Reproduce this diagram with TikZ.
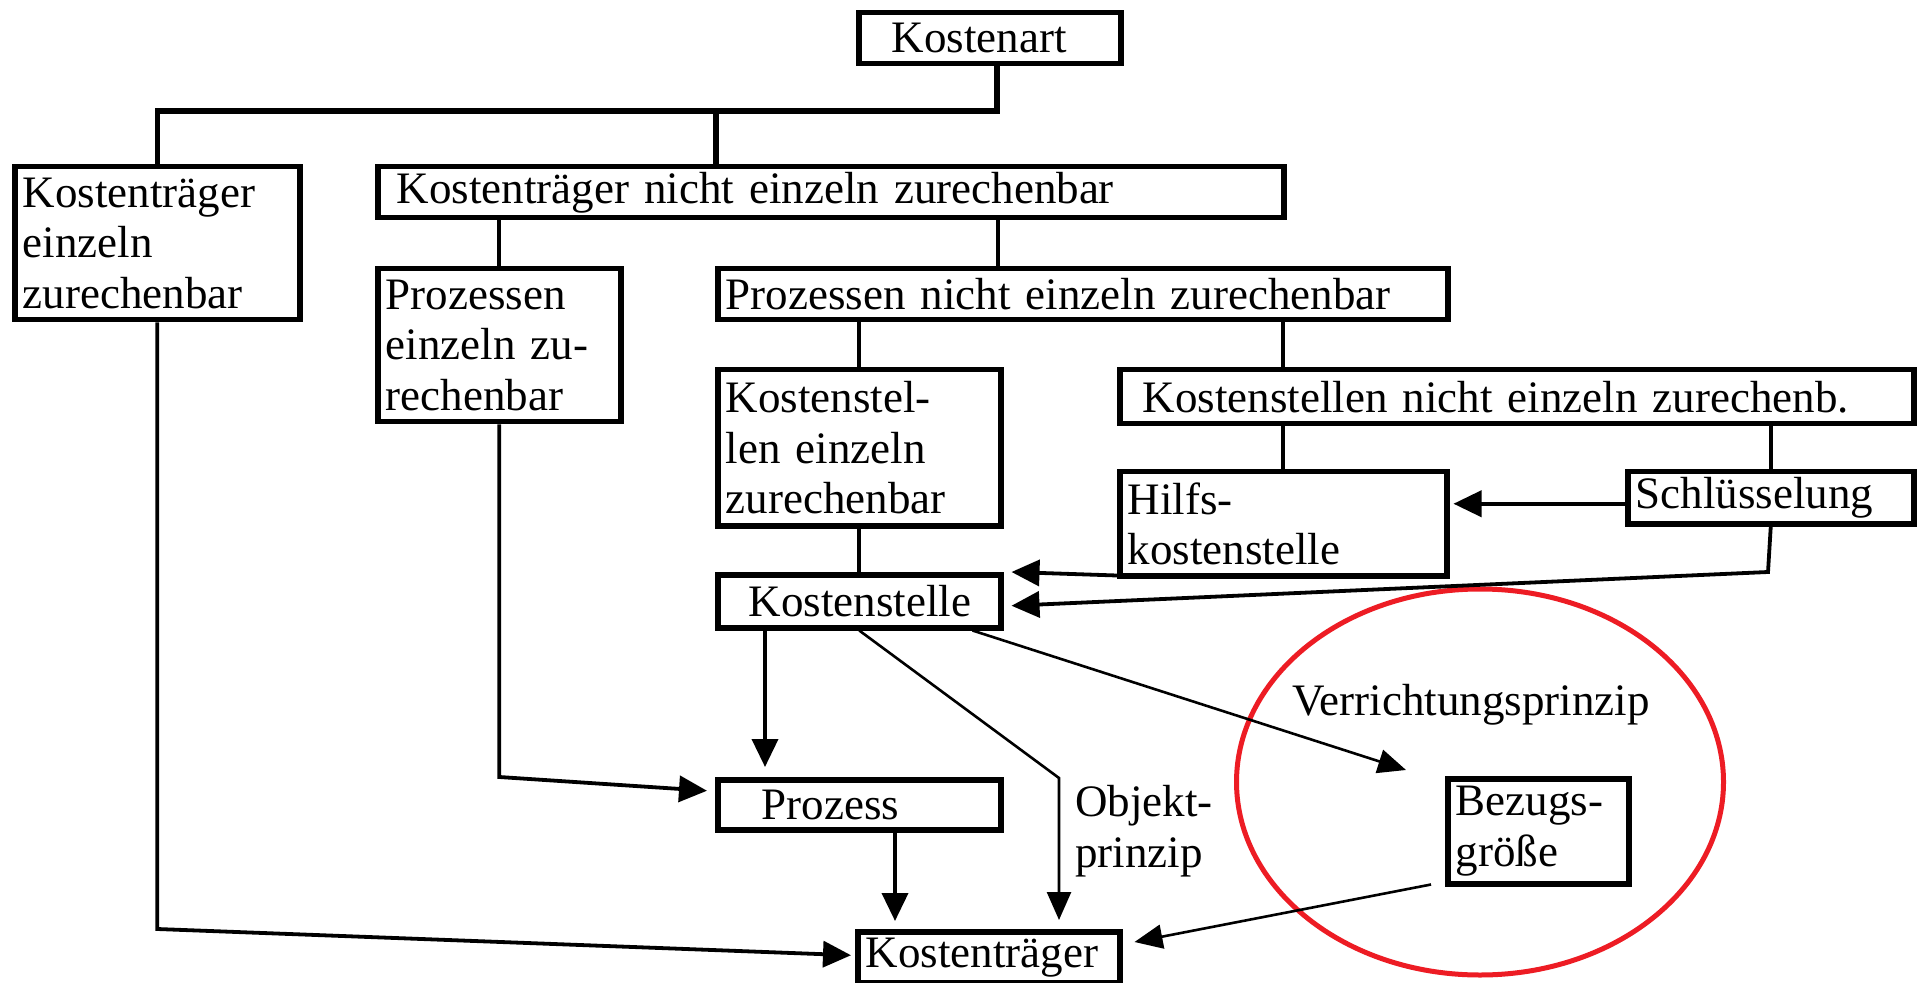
\documentclass[tikz,border=0pt]{standalone}
\usepackage{fontspec}
\setmainfont{Liberation Serif}
\usetikzlibrary{arrows.meta}
\definecolor{ered}{RGB}{237,28,36}
\tikzset{
  every node/.style={font=\fontsize{22.5pt}{25.25pt}\selectfont},
  box/.style={draw, line width=2.75pt, anchor=north west, inner xsep=4pt, inner ysep=0pt, align=left},
  tree/.style={line width=2.6pt},
  conn/.style={line width=2pt},
  arr/.style={line width=1.9pt, -{Triangle[length=14pt,width=13pt]}},
  arrthin/.style={line width=1.3pt, -{Triangle[length=14pt,width=12pt]}},
  lbl/.style={inner sep=0pt},
}
\begin{document}
\begin{tikzpicture}[x=0.5pt, y=-0.5pt]
\fill[white] (0,0) rectangle (1920,983);
\useasboundingbox (0,0) rectangle (1920,983);

% boxes
\node[box, text width=123pt, minimum height=25.5pt] (kart) at (856,10) {\hspace*{12.5pt}Kostenart};
\node[box, text width=134.5pt, minimum height=76.5pt] (kte) at (12,164) {Kostenträger\\einzeln\\zurechenbar};
\node[box, text width=445pt, minimum height=25.5pt] (ktn) at (375,164) {\hspace*{5.5pt}Kostenträger nicht einzeln zurechenbar};
\node[box, text width=113.5pt, minimum height=76.5pt] (pe) at (375,266) {Prozessen\\einzeln zu-\\rechenbar};
\node[box, text width=357pt, minimum height=25.5pt] (pn) at (715,266) {Prozessen nicht einzeln zurechenbar};
\node[box, text width=133.5pt, minimum height=78pt] (kse) at (715,367) {Kostenstel-\\len einzeln\\zurechenbar};
\node[box, text width=389pt, minimum height=27pt] (ksn) at (1117,367) {\hspace*{7.5pt}Kostenstellen nicht einzeln zurechenb.};
\node[box, text width=155.5pt, minimum height=52pt] (hilfs) at (1117,469) {Hilfs-\\kostenstelle};
\node[box, text width=135pt, minimum height=26pt] (schl) at (1625,469) {Schlüsselung};
\node[box, text width=133.5pt, minimum height=26.5pt] (kst) at (715,572) {\hspace*{11.5pt}Kostenstelle};
\node[box, text width=133.5pt, minimum height=25pt] (proz) at (715,777) {\hspace*{18pt}Prozess};
\node[box, text width=82.5pt, minimum height=52.5pt] (bez) at (1445,776) {Bezugs-\\größe};
\node[box, text width=123pt, minimum height=25.5pt] (ktr) at (855,929) {Kostenträger};

% labels
\node[lbl, anchor=base west] (vp) at (1292,715) {Verrichtungsprinzip};
\node[lbl, anchor=north west, align=left] (op) at (1075,785) {Objekt-\\prinzip};

% ellipse
\draw[ered, line width=2.5pt] (1480,782) ellipse [x radius=121.75pt, y radius=96.5pt];

% tree
\coordinate (j1) at (997,111);
\coordinate (j2) at (716,111);
\draw[tree] (kart.south -| j1) -- (j1) -| (kte.north);
\draw[tree] (j2) -- (j2 |- ktn.north);

% vertical connectors
\coordinate (xpn) at (998,266);
\draw[conn] (ktn.south -| pe.north) -- (pe.north);
\draw[conn] (ktn.south -| xpn) -- (xpn);
\draw[conn] (pn.south -| kse.north) -- (kse.north);
\draw[conn] (pn.south -| hilfs.north) -- (ksn.north -| hilfs.north);
\draw[conn] (ksn.south -| hilfs.north) -- (hilfs.north);
\draw[conn] (ksn.south -| schl.north) -- (schl.north);
\draw[conn] (kse.south) -- (kst.north);

% arrows
\coordinate (sw) at ([yshift=-3pt]schl.west);
\path (sw -| hilfs.east) coordinate (he);
\draw[arr] (sw) -- ([xshift=2pt]he);
\draw[arr] ([yshift=1.5pt]hilfs.south west) -- ([xshift=4pt]kst.north east);
\coordinate (sb) at (1768,572);
\draw[arr] (schl.south) -- (sb) -- ([xshift=4pt,yshift=-2.25pt]kst.east);
\draw[arr] ([xshift=25pt]kst.south west) -- ([xshift=25pt,yshift=5pt]proz.north west);
\path (pe.south |- proz.north) coordinate (pb);
\draw[arr] (pe.south) -- (pb) -- ([xshift=-4pt,yshift=7pt]proz.west);
\coordinate (ob) at (1059,778);
\draw[arrthin, shorten >=4.5pt] (kst.south) -- (ob) -- (ob |- ktr.north);
\draw[arrthin] ([xshift=-15.5pt]kst.south east) -- ([xshift=-19.5pt,yshift=3pt]bez.north west);
\draw[arrthin] ([xshift=-7pt,yshift=1pt]bez.south west) -- ([xshift=6pt,yshift=-6.5pt]ktr.north east);
\draw[arr] ([xshift=90pt]proz.south west) -- ([xshift=20pt,yshift=4pt]ktr.north west);
\path (kte.south |- ktr.north) coordinate (kb);
\draw[arr] (kte.south) -- (kb) -- ([xshift=-2pt,yshift=1pt]ktr.west);
\end{tikzpicture}
\end{document}
